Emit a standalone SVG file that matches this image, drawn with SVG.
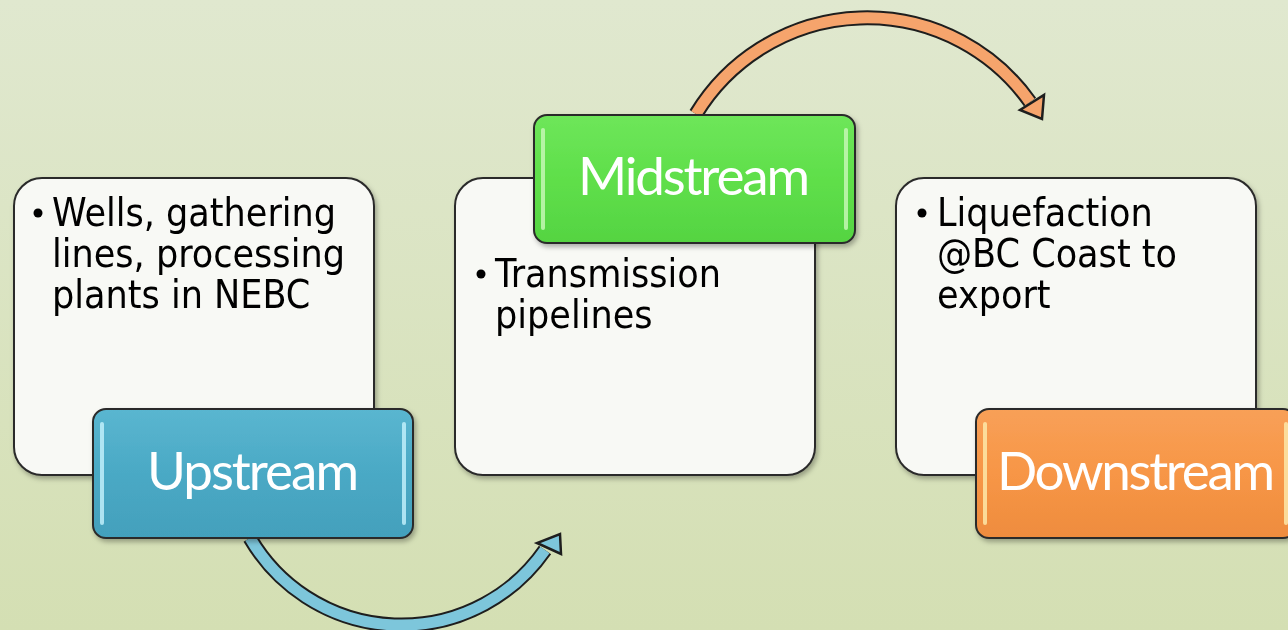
<svg xmlns="http://www.w3.org/2000/svg" width="1288" height="630" viewBox="0 0 1288 630">
<defs>
<linearGradient id="bg" x1="0" y1="0" x2="0" y2="1">
<stop offset="0" stop-color="#e0e8cf"/>
<stop offset="1" stop-color="#d4dfb3"/>
</linearGradient>
<linearGradient id="gBlue" x1="0" y1="0" x2="0" y2="1">
<stop offset="0" stop-color="#5ab6d0"/>
<stop offset="0.5" stop-color="#4aa9c5"/>
<stop offset="1" stop-color="#43a0bc"/>
</linearGradient>
<linearGradient id="gGreen" x1="0" y1="0" x2="0" y2="1">
<stop offset="0" stop-color="#6ee65a"/>
<stop offset="0.5" stop-color="#5fdf4a"/>
<stop offset="1" stop-color="#55d442"/>
</linearGradient>
<linearGradient id="gOrange" x1="0" y1="0" x2="0" y2="1">
<stop offset="0" stop-color="#f8a058"/>
<stop offset="0.5" stop-color="#f79646"/>
<stop offset="1" stop-color="#ee8c3e"/>
</linearGradient>
<filter id="sh" x="-10%" y="-10%" width="125%" height="130%">
<feDropShadow dx="2" dy="3" stdDeviation="2.5" flood-color="#000" flood-opacity="0.3"/>
</filter>
</defs>
<style>
.box{fill:#f8f9f5;stroke:#2b2b2b;stroke-width:2}
.lab{stroke:#2b2b2b;stroke-width:2}
.hl{stroke-width:4;stroke-linecap:round;fill:none;opacity:0.85}
.txt{font-family:"DejaVu Sans Condensed","DejaVu Sans",sans-serif;font-size:39px;fill:#000}
.lt{font-family:Lato,"Open Sans",sans-serif;font-size:53px;fill:#fff;text-anchor:middle}
.arcOut{fill:none;stroke:#1e1e1e;stroke-width:15}
</style>
<rect width="1288" height="630" fill="url(#bg)"/>

<g id="connectors">
<path class="arcOut" d="M 250 538 A 175 175 0 0 0 545 550"/>
<path d="M 250 538 A 175 175 0 0 0 545 550" fill="none" stroke="#7dc6db" stroke-width="11"/>
<polygon points="560,534 561,554 537,543" fill="#7dc6db" stroke="#1e1e1e" stroke-width="2.5" stroke-linejoin="miter"/>
<path class="arcOut" d="M 696 114 A 200 200 0 0 1 1030 102"/>
<path d="M 696 114 A 200 200 0 0 1 1030 102" fill="none" stroke="#f6a46c" stroke-width="11"/>
<polygon points="1044,95 1042,119 1020,110" fill="#f6a46c" stroke="#1e1e1e" stroke-width="2.5"/>
</g>

<g id="box-upstream" filter="url(#sh)">
<rect class="box" x="14" y="178" width="360" height="297" rx="28"/>
<circle cx="38" cy="213" r="4.5"/>
<text class="txt" x="52" y="226">Wells, gathering</text>
<text class="txt" x="52" y="267">lines, processing</text>
<text class="txt" x="52" y="308">plants in NEBC</text>
</g>

<g id="box-midstream" filter="url(#sh)">
<rect class="box" x="455" y="178" width="360" height="297" rx="28"/>
<circle cx="481" cy="274" r="4.5"/>
<text class="txt" x="495" y="287">Transmission</text>
<text class="txt" x="495" y="328">pipelines</text>
</g>

<g id="box-downstream" filter="url(#sh)">
<rect class="box" x="896" y="178" width="360" height="297" rx="28"/>
<circle cx="922" cy="213" r="4.5"/>
<text class="txt" x="937" y="226">Liquefaction</text>
<text class="txt" x="937" y="267">@BC Coast to</text>
<text class="txt" x="937" y="308">export</text>
</g>

<g id="label-upstream" filter="url(#sh)">
<rect class="lab" x="93" y="409" width="320" height="129" rx="13" fill="url(#gBlue)"/>
<line class="hl" x1="102" y1="424" x2="102" y2="523" stroke="#bfeefa"/>
<line class="hl" x1="404" y1="424" x2="404" y2="523" stroke="#bfeefa"/>
<text class="lt" x="253" y="490" textLength="212">Upstream</text>
</g>

<g id="label-midstream" filter="url(#sh)">
<rect class="lab" x="534" y="115" width="321" height="128" rx="13" fill="url(#gGreen)"/>
<line class="hl" x1="543" y1="130" x2="543" y2="228" stroke="#c4f7b4"/>
<line class="hl" x1="846" y1="130" x2="846" y2="228" stroke="#c4f7b4"/>
<text class="lt" x="694" y="195" textLength="232">Midstream</text>
</g>

<g id="label-downstream" filter="url(#sh)">
<rect class="lab" x="976" y="409" width="320" height="129" rx="13" fill="url(#gOrange)"/>
<line class="hl" x1="985" y1="424" x2="985" y2="523" stroke="#fde7a8"/>
<line class="hl" x1="1286" y1="424" x2="1286" y2="523" stroke="#fde7a8"/>
<text class="lt" x="1136" y="490" textLength="278">Downstream</text>
</g>
</svg>
